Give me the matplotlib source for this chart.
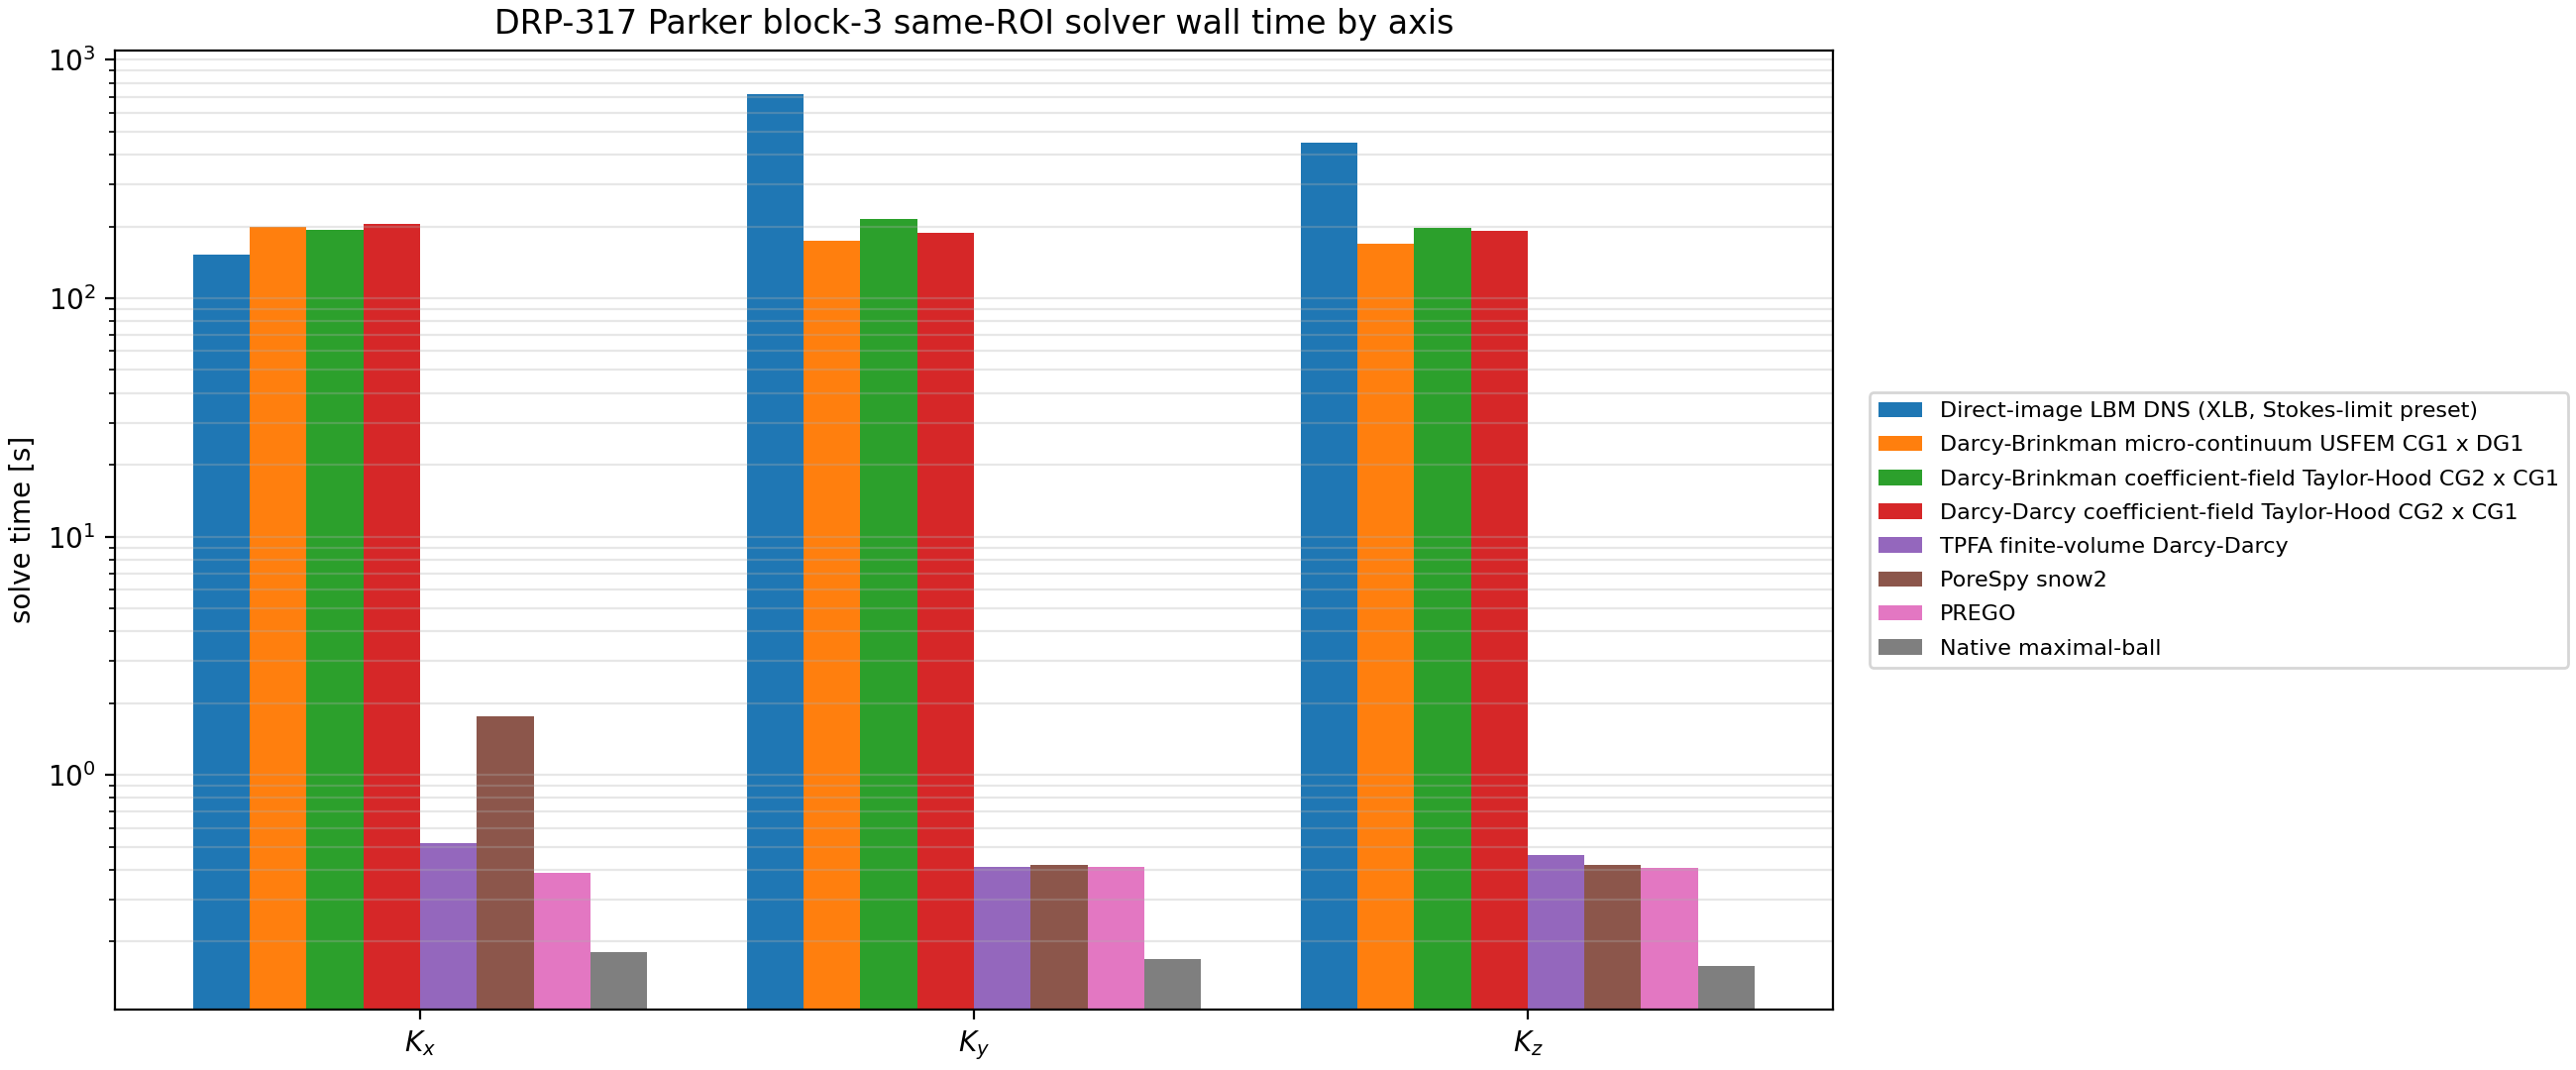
import numpy as np
import matplotlib
matplotlib.use("Agg")
import matplotlib.pyplot as plt

# solver wall time per permeability axis
axes_labels = ["$K_x$", "$K_y$", "$K_z$"]

methods = [
    "Direct-image LBM DNS (XLB, Stokes-limit preset)",
    "Darcy-Brinkman micro-continuum USFEM CG1 x DG1",
    "Darcy-Brinkman coefficient-field Taylor-Hood CG2 x CG1",
    "Darcy-Darcy coefficient-field Taylor-Hood CG2 x CG1",
    "TPFA finite-volume Darcy-Darcy",
    "PoreSpy snow2",
    "PREGO",
    "Native maximal-ball",
]

lbm_dns = [153.0, 720.0, 450.0]
db_usfem = [199.0, 174.0, 169.0]
db_taylor_hood = [193.0, 215.0, 197.0]
dd_taylor_hood = [205.0, 188.0, 191.0]
tpfa = [0.516, 0.41, 0.46]
porespy_snow2 = [1.76, 0.418, 0.42]
prego = [0.39, 0.41, 0.406]
maximal_ball = [0.181, 0.169, 0.158]

times = [lbm_dns, db_usfem, db_taylor_hood, dd_taylor_hood,
         tpfa, porespy_snow2, prego, maximal_ball]

fig, ax = plt.subplots(figsize=(13, 5.4), dpi=200)

x = np.arange(len(axes_labels))
width = 0.82 / len(methods)
for i, (name, vals) in enumerate(zip(methods, times)):
    offset = (i - (len(methods) - 1) / 2) * width
    ax.bar(x + offset, vals, width, label=name)

ax.set_yscale("log")
ax.set_xticks(x)
ax.set_xticklabels(axes_labels)
ax.set_ylabel("solve time [s]")
ax.set_title("DRP-317 Parker block-3 same-ROI solver wall time by axis")
ax.grid(axis="y", which="both", alpha=0.3)
ax.legend(loc="center left", bbox_to_anchor=(1.015, 0.5), fontsize=8,
          labelspacing=0.64)

fig.subplots_adjust(left=0.0446, right=0.7115, top=0.953, bottom=0.0565)
fig.savefig("out.png")
